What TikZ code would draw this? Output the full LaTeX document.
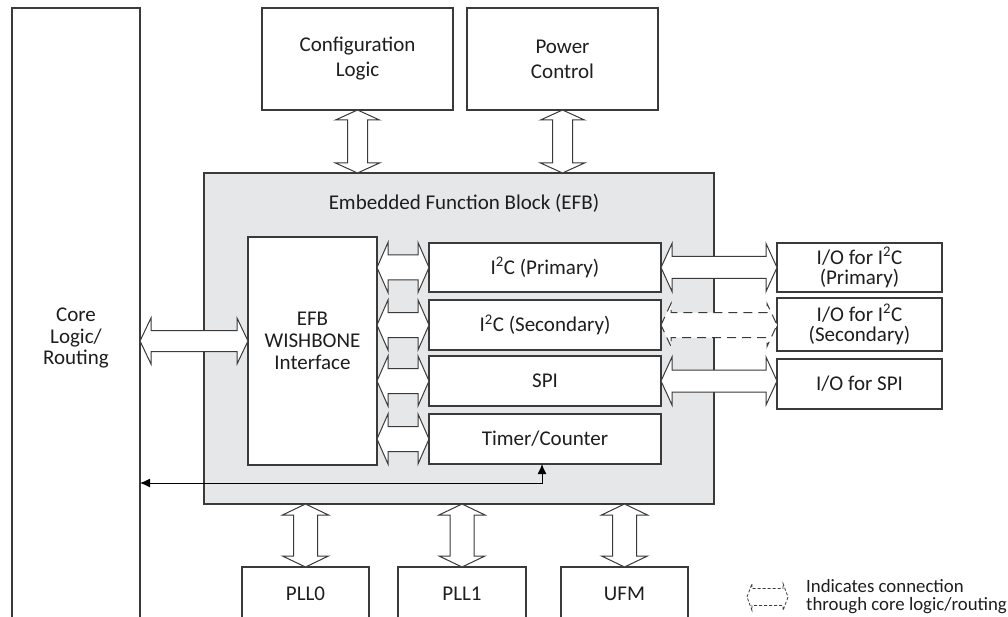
\documentclass[tikz,border=0pt]{standalone}
\usepackage{fontspec}
\setmainfont{Carlito}
\usetikzlibrary{calc,arrows.meta}
\definecolor{linecol}{HTML}{3A3A3A}
\definecolor{efbgray}{HTML}{E6E7E8}
\definecolor{txtcol}{HTML}{1E1E1E}
\tikzset{
  box/.style={draw=linecol, line width=1.1pt, fill=white, rectangle, outer sep=0pt, inner sep=0pt, align=center, text=txtcol},
  efbbox/.style={box, fill=efbgray},
  lbl/.style={inner sep=0pt, align=center, text=txtcol},
  blockarrow/.style={draw=linecol, fill=white, line width=1pt, line join=miter},
  dasharrow/.style={blockarrow, dash pattern=on 9pt off 6pt},
  legarrow/.style={blockarrow, line width=0.8pt, dash pattern=on 3pt off 2pt},
  thinarrow/.style={draw=black, line width=1pt, {Latex[length=10pt,width=9pt]}-{Latex[length=10pt,width=9pt]}},
  fsA/.style={font=\fontsize{21}{25}\selectfont},
  fsB/.style={font=\fontsize{21}{20.5}\selectfont},
  fsC/.style={font=\fontsize{21}{21.8}\selectfont},
}
% horizontal double block arrow: #2 left point, #3 right point, #4 shaft half, #5 head half, #6 head length
\newcommand\dblH[6][blockarrow]{%
  \draw[#1] let \p1=(#2), \p2=(#3) in
   (\x1,\y1) -- (\x1+#6pt,\y1+#5pt) -- (\x1+#6pt,\y1+#4pt) -- (\x2-#6pt,\y1+#4pt)
   -- (\x2-#6pt,\y1+#5pt) -- (\x2,\y1) -- (\x2-#6pt,\y1-#5pt) -- (\x2-#6pt,\y1-#4pt)
   -- (\x1+#6pt,\y1-#4pt) -- (\x1+#6pt,\y1-#5pt) -- cycle;}
% vertical double block arrow: #2 top point, #3 bottom point
\newcommand\dblV[6][blockarrow]{%
  \draw[#1] let \p1=(#2), \p2=(#3) in
   (\x1,\y1) -- (\x1+#5pt,\y1-#6pt) -- (\x1+#4pt,\y1-#6pt) -- (\x1+#4pt,\y2+#6pt)
   -- (\x1+#5pt,\y2+#6pt) -- (\x1,\y2) -- (\x1-#5pt,\y2+#6pt) -- (\x1-#4pt,\y2+#6pt)
   -- (\x1-#4pt,\y1-#6pt) -- (\x1-#5pt,\y1-#6pt) -- cycle;}
\begin{document}
\begin{tikzpicture}[x=1pt,y=-1pt]
\useasboundingbox (0,0) rectangle (1008,617);
\fill[white] (0,0) rectangle (1008,617);

% core logic column
\node[box, minimum width=128pt, minimum height=658pt] (core) at (76,337) {};
\node[lbl, fsC] (coretext) at (76,338) {Core\\Logic/\\Routing};

% top blocks
\node[box, fsA, minimum width=191pt, minimum height=102pt] (cfg) at (357.5,59) {Configuration\\Logic};
\node[box, fsA, minimum width=191pt, minimum height=102pt] (pwr) at (562.5,59) {Power\\Control};

% EFB
\node[efbbox, minimum width=510pt, minimum height=331pt] (efb) at (459,338.5) {};
\node[lbl, fsA] (efbtitle) at (464,203) {Embedded Function Block (EFB)};

\node[box, minimum width=129pt, minimum height=228pt] (wb) at (312.5,351) {};
\node[lbl, fsC] (wbtext) at (312.5,341) {EFB\\WISHBONE\\Interface};

\node[box, fsA, minimum width=232pt, minimum height=49pt] (i2cp) at (545,267.5) {I\textsuperscript{2}C (Primary)};
\node[box, fsA, minimum width=232pt, minimum height=50pt] (i2cs) at (545,325) {I\textsuperscript{2}C (Secondary)};
\node[box, fsA, minimum width=232pt, minimum height=50pt] (spi) at (545,381) {SPI};
\node[box, fsA, minimum width=232pt, minimum height=50pt] (timer) at (545,439) {Timer/Counter};

% I/O blocks
\node[box, fsB, minimum width=165pt, minimum height=49pt] (iop) at (859.5,267.5) {I/O for I\textsuperscript{2}C\\(Primary)};
\node[box, fsB, minimum width=165pt, minimum height=53pt] (ios) at (859.5,324.5) {I/O for I\textsuperscript{2}C\\(Secondary)};
\node[box, fsB, minimum width=165pt, minimum height=50pt] (iospi) at (859.5,384) {I/O for SPI};

% bottom blocks
\node[box, fsA, minimum width=127pt, minimum height=54pt] (pll0) at (305.5,594) {PLL0};
\node[box, fsA, minimum width=128pt, minimum height=54pt] (pll1) at (462,594) {PLL1};
\node[box, fsA, minimum width=127pt, minimum height=54pt] (ufm) at (624.5,594) {UFM};

% connectors: top
\dblV{cfg.south}{efb.north}{10}{22}{10}
\dblV{pwr.south}{efb.north}{10}{22}{10}
% bottom
\dblV{efb.south -| pll0.north}{pll0.north}{12}{23}{11}
\dblV{efb.south -| pll1.north}{pll1.north}{12}{23}{11}
\dblV{efb.south -| ufm.north}{ufm.north}{12}{23}{11}
% core <-> wishbone
\dblH{core.east |- wbtext}{wb.west |- wbtext}{10.5}{23}{11}
% wishbone <-> peripherals
\dblH{wb.east |- i2cp}{i2cp.west}{12.5}{25}{11}
\dblH{wb.east |- i2cs}{i2cs.west}{12.5}{25}{11}
\dblH{wb.east |- spi}{spi.west}{12.5}{25}{11}
\dblH{wb.east |- timer}{timer.west}{12.5}{25}{11}
% peripherals <-> I/O
\dblH{i2cp.east}{iop.west |- i2cp}{11}{24}{11}
\dblH[dasharrow]{i2cs.east}{ios.west |- i2cs}{12.5}{21.5}{10}
\dblH{spi.east}{iospi.west |- spi}{11}{24}{11}

% timer <-> core
\draw[thinarrow] (core.east |- 0,483) -| ([xshift=-3pt]timer.south);

% legend
\coordinate (legL) at (747,597);
\coordinate (legR) at (788,597);
\dblH[legarrow]{legL}{legR}{8.5}{13.5}{5}
\node[lbl, anchor=west, align=left, font=\fontsize{18.8}{18}\selectfont] (legtext) at (806,597) {Indicates connection\\through core logic/routing};
\end{tikzpicture}
\end{document}
